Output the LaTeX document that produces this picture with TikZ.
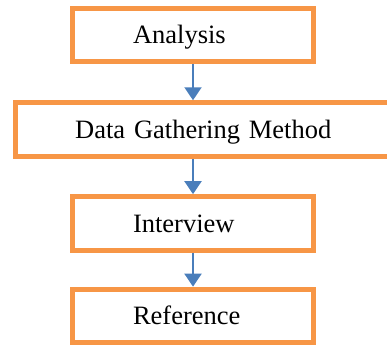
\documentclass[tikz,border=0pt]{standalone}
\usepackage{fontspec}
\setmainfont{Liberation Serif}
\usetikzlibrary{arrows.meta}
\definecolor{boxorange}{HTML}{F79646}
\definecolor{arrowblue}{HTML}{4A7EBB}
\begin{document}
\begin{tikzpicture}[x=1pt,y=1pt,
        stagebox/.style={draw=boxorange,line width=5pt,fill=white,
            minimum height=53.5pt,inner ysep=0pt,inner xsep=60.5pt,
            text height=17.5pt,text depth=0pt,align=left,
            font=\fontsize{26.5}{30}\selectfont},
        flow/.style={draw=arrowblue,line width=2pt,
            -{Triangle[width=17pt,length=13pt]}}]
    \useasboundingbox (0,0) rectangle (387,-345);
    \clip (0,0) rectangle (387,-345);
    \node[stagebox,text width=120pt] (ana) at (193,-35) {Analysis};
    \node[stagebox,text width=260pt,inner xsep=59.8pt] (dat) at (205.2,-129.5) {Data Gathering Method};
    \node[stagebox,text width=120pt] (itv) at (193,-223.4) {Interview};
    \node[stagebox,text width=120pt] (ref) at (193,-315.9) {Reference};
    \draw[flow] (ana.south) -- (ana.south |- dat.north);
    \draw[flow] (dat.south -| ana.south) -- (itv.north);
    \draw[flow] (itv.south) -- (ref.north);
\end{tikzpicture}
\end{document}
